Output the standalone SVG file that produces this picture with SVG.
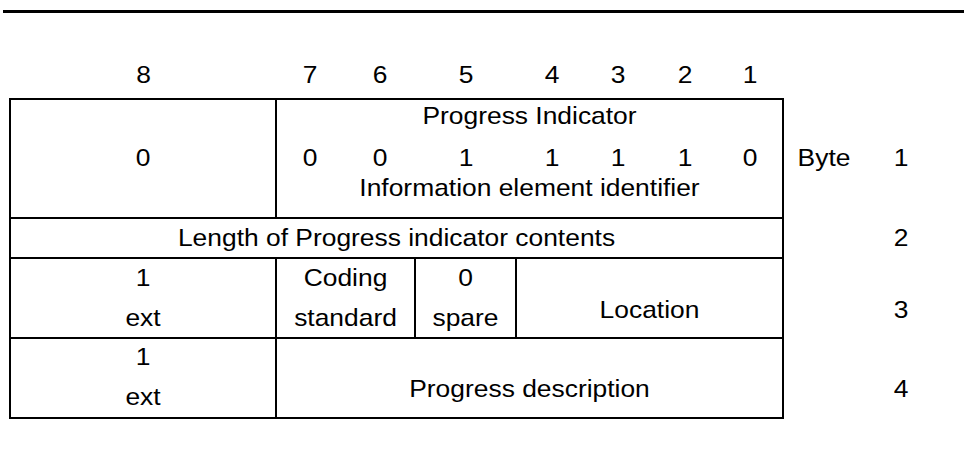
<svg xmlns="http://www.w3.org/2000/svg" width="964" height="466" viewBox="0 0 964 466">
<style>
.t{font-family:"Liberation Sans",Arial,sans-serif;font-size:24px;fill:#000;text-anchor:middle}
.ln{stroke:#000;stroke-width:2;fill:none}
</style>
<rect width="964" height="466" fill="#fff"/>
<rect x="3" y="10" width="961" height="3" fill="#000"/>
<g id="header">
<text class="t" transform="translate(143.5,83) scale(1.1,1)">8</text>
<text class="t" transform="translate(310,83) scale(1.1,1)">7</text>
<text class="t" transform="translate(380,83) scale(1.1,1)">6</text>
<text class="t" transform="translate(466,83) scale(1.1,1)">5</text>
<text class="t" transform="translate(552,83) scale(1.1,1)">4</text>
<text class="t" transform="translate(618,83) scale(1.1,1)">3</text>
<text class="t" transform="translate(685,83) scale(1.1,1)">2</text>
<text class="t" transform="translate(750,83) scale(1.1,1)">1</text>
</g>
<g id="grid">
<rect class="ln" x="10" y="99" width="773" height="319"/>
<line class="ln" x1="10" y1="218" x2="783" y2="218"/>
<line class="ln" x1="10" y1="258" x2="783" y2="258"/>
<line class="ln" x1="10" y1="338" x2="783" y2="338"/>
<line class="ln" x1="276" y1="99" x2="276" y2="218"/>
<line class="ln" x1="276" y1="258" x2="276" y2="418"/>
<line class="ln" x1="415" y1="258" x2="415" y2="338"/>
<line class="ln" x1="516" y1="258" x2="516" y2="338"/>
</g>
<g id="byte1">
<text class="t" transform="translate(143,166) scale(1.1,1)">0</text>
<text class="t" transform="translate(529.5,124) scale(1.1,1)">Progress Indicator</text>
<text class="t" transform="translate(310,166) scale(1.1,1)">0</text>
<text class="t" transform="translate(380,166) scale(1.1,1)">0</text>
<text class="t" transform="translate(466,166) scale(1.1,1)">1</text>
<text class="t" transform="translate(552,166) scale(1.1,1)">1</text>
<text class="t" transform="translate(618,166) scale(1.1,1)">1</text>
<text class="t" transform="translate(685,166) scale(1.1,1)">1</text>
<text class="t" transform="translate(750,166) scale(1.1,1)">0</text>
<text class="t" transform="translate(529.5,196) scale(1.1,1)">Information element identifier</text>
<text class="t" transform="translate(824,166) scale(1.1,1)">Byte</text>
<text class="t" transform="translate(901,166) scale(1.1,1)">1</text>
</g>
<g id="byte2">
<text class="t" transform="translate(396.5,246) scale(1.1,1)">Length of Progress indicator contents</text>
<text class="t" transform="translate(901,246) scale(1.1,1)">2</text>
</g>
<g id="byte3">
<text class="t" transform="translate(143,286) scale(1.1,1)">1</text>
<text class="t" transform="translate(143,326) scale(1.1,1)">ext</text>
<text class="t" transform="translate(345.5,286) scale(1.1,1)">Coding</text>
<text class="t" transform="translate(345.5,326) scale(1.1,1)">standard</text>
<text class="t" transform="translate(465.5,286) scale(1.1,1)">0</text>
<text class="t" transform="translate(465.5,326) scale(1.1,1)">spare</text>
<text class="t" transform="translate(649.5,318) scale(1.1,1)">Location</text>
<text class="t" transform="translate(901,318) scale(1.1,1)">3</text>
</g>
<g id="byte4">
<text class="t" transform="translate(143,365) scale(1.1,1)">1</text>
<text class="t" transform="translate(143,405) scale(1.1,1)">ext</text>
<text class="t" transform="translate(529.5,397) scale(1.1,1)">Progress description</text>
<text class="t" transform="translate(901,397) scale(1.1,1)">4</text>
</g>
</svg>
